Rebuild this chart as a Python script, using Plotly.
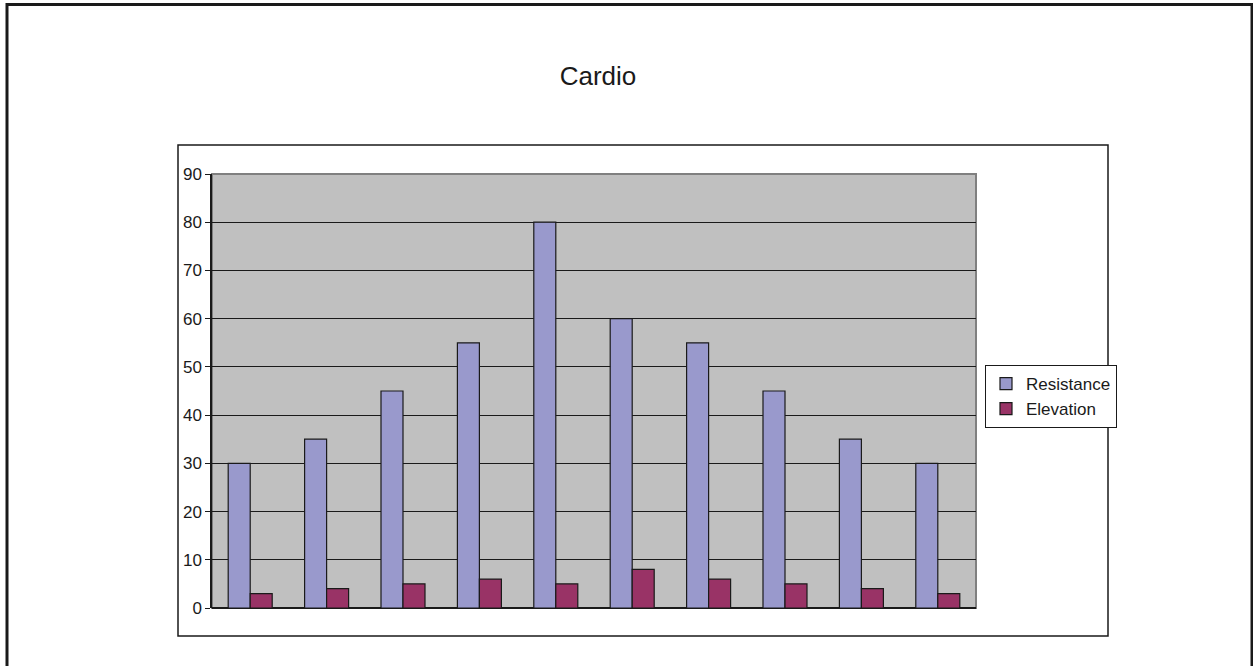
import plotly.graph_objects as go

categories = ["1", "2", "3", "4", "5", "6", "7", "8", "9", "10"]
resistance = [30, 35, 45, 55, 80, 60, 55, 45, 35, 30]
elevation = [3, 4, 5, 6, 5, 8, 6, 5, 4, 3]
series_names = ["Resistance", "Elevation"]
y_ticks = [0, 10, 20, 30, 40, 50, 60, 70, 80, 90]

W, H = 1253, 666
L, R, T, B = 212, 976, 174, 608  # plot area in pixels


def px(x):
    return (x - L) / (R - L)


def py(y):
    return (B - y) / (B - T)


FONT = "Liberation Sans, Arial, sans-serif"

fig = go.Figure()
fig.add_trace(go.Bar(x=categories, y=resistance, name=series_names[0],
                     marker=dict(color="#9999CC", line=dict(color="#1a1a1a", width=1.2))))
fig.add_trace(go.Bar(x=categories, y=elevation, name=series_names[1],
                     marker=dict(color="#993366", line=dict(color="#1a1a1a", width=1.2))))

shapes = [
    # outer border
    dict(type="rect", xref="paper", yref="paper", x0=px(7), x1=px(1252), y0=py(700), y1=py(4.5),
         line=dict(color="#1a1a1a", width=3), layer="below"),
    # chart box
    dict(type="rect", xref="paper", yref="paper", x0=px(178), x1=px(1108), y0=py(636), y1=py(145),
         line=dict(color="#1a1a1a", width=1.5), layer="below"),
    # plot area border
    dict(type="rect", xref="paper", yref="paper", x0=0, x1=1, y0=0, y1=1,
         line=dict(color="#808080", width=2), layer="below"),
]

fig.update_layout(
    width=W, height=H,
    margin=dict(l=L, r=W - R, t=T, b=H - B, pad=0),
    paper_bgcolor="white",
    plot_bgcolor="#C0C0C0",
    barmode="group",
    bargap=0.424,
    bargroupgap=0,
    font=dict(family=FONT, size=17, color="#1a1a1a"),
    title=dict(text="Cardio", x=px(598), xref="paper", xanchor="center",
               y=1 - 76 / H, yref="container", yanchor="middle",
               font=dict(family=FONT, size=26, color="#1a1a1a")),
    xaxis=dict(type="category", showticklabels=False, ticks="", showgrid=False,
               showline=False, zeroline=False),
    yaxis=dict(range=[0, 90], tickvals=y_ticks, ticks="outside", ticklen=5,
               tickcolor="#1a1a1a", tickwidth=1, showline=True, linecolor="#1a1a1a",
               linewidth=1.5, showgrid=True, gridcolor="#1a1a1a", gridwidth=1,
               zeroline=True, zerolinecolor="#1a1a1a", zerolinewidth=1.5,
               tickfont=dict(family=FONT, size=17, color="#1a1a1a")),
    legend=dict(x=px(985), y=py(365), xanchor="left", yanchor="top",
                bgcolor="white", bordercolor="#1a1a1a", borderwidth=1,
                font=dict(family=FONT, size=17, color="#1a1a1a"),
                itemwidth=30, tracegroupgap=0),
    shapes=shapes,
)

fig.write_html("out.html",
               config={"displayModeBar": False},
               post_script="document.body.style.margin='0';document.body.style.overflow='hidden';")
